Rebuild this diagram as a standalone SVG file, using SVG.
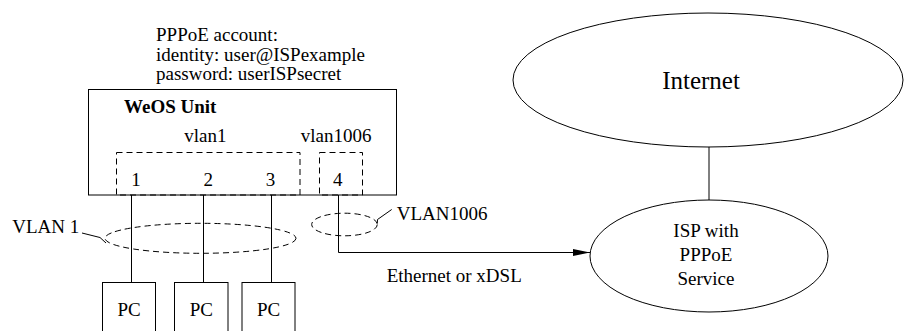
<svg xmlns="http://www.w3.org/2000/svg" width="904" height="331" viewBox="0 0 904 331" font-family="'Liberation Serif', 'Times New Roman', Times, 'DejaVu Serif', serif">
<style>
text{font-family:'Liberation Serif','Times New Roman',Times,'DejaVu Serif',serif;font-size:19px;fill:#000}
.b{font-weight:bold}
.m{text-anchor:middle}
.s{fill:none;stroke:#000;stroke-width:1}
.d{fill:none;stroke:#000;stroke-width:1;stroke-dasharray:6 4}
</style>
<defs>
<marker id="ah" markerWidth="17" markerHeight="7" refX="17" refY="3.5" orient="auto" markerUnits="userSpaceOnUse">
<path d="M0,0 L17,3.5 L0,7 Z" fill="#000"/>
</marker>
</defs>
<rect width="904" height="331" fill="#fff"/>
<g id="account">
<text x="156" y="41">PPPoE account:</text>
<text x="156" y="60.5">identity: user@ISPexample</text>
<text x="156" y="80">password: userISPsecret</text>
</g>
<g id="weos">
<rect class="s" x="88.5" y="89.5" width="308" height="105.5"/>
<text class="b" x="124" y="113.3">WeOS Unit</text>
<text x="184.3" y="141.7">vlan1</text>
<text x="300.7" y="141.7">vlan1006</text>
<rect class="d" x="116.5" y="152.5" width="183.5" height="42.5"/>
<rect class="d" x="319.5" y="152.5" width="43" height="42.5"/>
<text class="m" x="136" y="186">1</text>
<text class="m" x="208.3" y="186">2</text>
<text class="m" x="270.5" y="186">3</text>
<text class="m" x="337.8" y="186">4</text>
</g>
<g id="pc1"><rect class="s" x="102.5" y="282.5" width="53" height="60"/><text class="m" x="129" y="316">PC</text></g>
<g id="pc2"><rect class="s" x="174.5" y="282.5" width="53.5" height="60"/><text class="m" x="201.3" y="316">PC</text></g>
<g id="pc3"><rect class="s" x="242" y="282.5" width="53" height="60"/><text class="m" x="268.5" y="316">PC</text></g>
<g id="internet">
<ellipse class="s" cx="708" cy="80" rx="195" ry="67"/>
<text class="m" x="701" y="89.3" style="font-size:25px">Internet</text>
</g>
<g id="isp">
<ellipse class="s" cx="709" cy="256" rx="119" ry="56"/>
<text class="m" x="706" y="236.7">ISP with</text>
<text class="m" x="706" y="260.7">PPPoE</text>
<text class="m" x="706" y="285">Service</text>
</g>
<g id="vlan1">
<ellipse class="d" cx="200.5" cy="238.3" rx="95.5" ry="15"/>
<path class="s" d="M82,233 L100,237.5 L106,243"/>
<text x="12.3" y="233.3">VLAN 1</text>
</g>
<g id="vlan1006">
<ellipse class="d" cx="344.5" cy="224.5" rx="32.8" ry="11.3"/>
<path class="s" d="M391.7,209.5 L377.5,219.5 L377.3,223"/>
<text x="396.7" y="220">VLAN1006</text>
</g>
<g id="connectors">
<path class="s" d="M131.5,195 V282.5"/>
<path class="s" d="M203.5,195 V282.5"/>
<path class="s" d="M271.5,195 V282.5"/>
<path class="s" d="M338.5,195 V252.5 H590" marker-end="url(#ah)"/>
<path class="s" d="M709,147 V200"/>
<text x="386.7" y="281.7">Ethernet or xDSL</text>
</g>
</svg>
